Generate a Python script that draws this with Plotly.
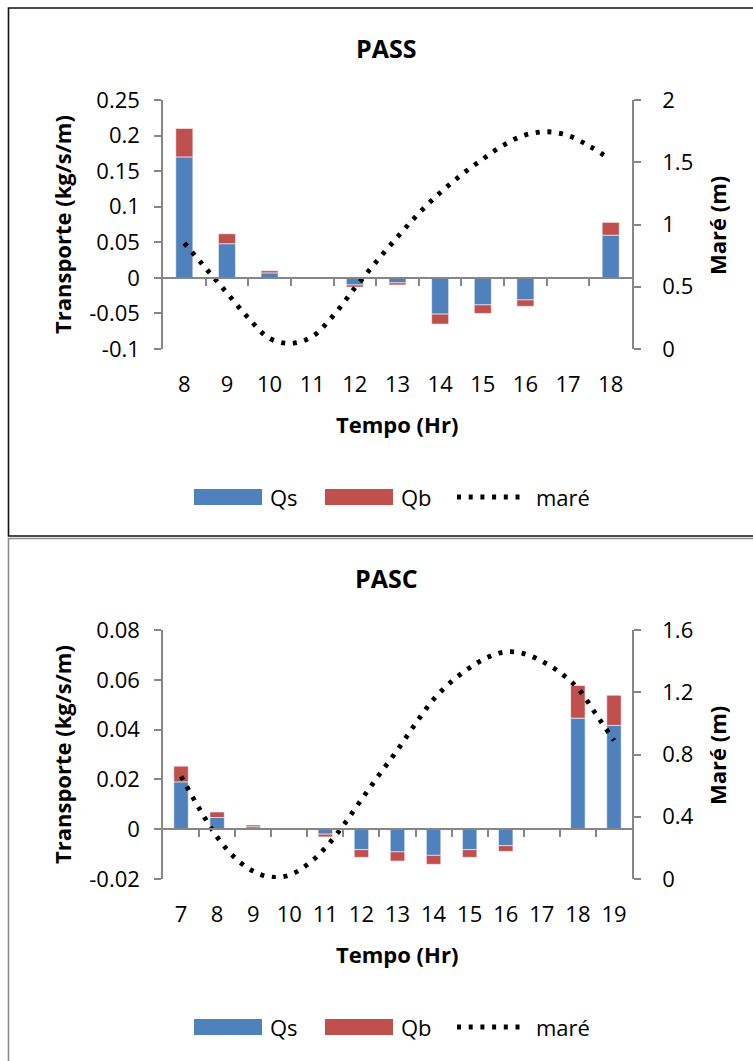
import plotly.graph_objects as go

W, H = 753, 1061
FONT = "Open Sans"
AXIS_GRAY = "#868686"
QS_COLOR = "#4F81BD"
QB_COLOR = "#C0504D"
MARE_WIDTH = 4.8
MARE_DASH = "4px,7.7px"
RIGHT_PAD = "\u00a0" * 3  # gap between the secondary axis and its labels

# ---------------- PASS ----------------
hours_pass = [8, 9, 10, 11, 12, 13, 14, 15, 16, 17, 18]
qs_pass = [0.170, 0.048, 0.007, 0.0, -0.010, -0.007, -0.051, -0.038, -0.031, 0.0, 0.060]
qb_pass = [0.040, 0.014, 0.003, 0.0, -0.003, -0.003, -0.014, -0.012, -0.009, 0.0, 0.018]
mare_t_pass = [8, 8.5, 9, 9.5, 10, 10.5, 11, 11.5, 12, 12.5, 13, 13.5, 14,
               14.5, 15, 15.5, 16, 16.5, 17, 17.5, 18]
mare_pass = [0.85, 0.65, 0.45, 0.25, 0.085, 0.045, 0.10, 0.27, 0.49, 0.70, 0.90,
             1.09, 1.255, 1.40, 1.525, 1.64, 1.72, 1.745, 1.715, 1.63, 1.52]
ytick_pass = [-0.1, -0.05, 0, 0.05, 0.1, 0.15, 0.2, 0.25]
ytext_pass = ["-0.1", "-0.05", "0", "0.05", "0.1", "0.15", "0.2", "0.25"]
y2tick_pass = [0, 0.5, 1, 1.5, 2]
y2text_pass = ["0", "0.5", "1", "1.5", "2"]

# ---------------- PASC ----------------
hours_pasc = [7, 8, 9, 10, 11, 12, 13, 14, 15, 16, 17, 18, 19]
qs_pasc = [0.0190, 0.0047, 0.0010, 0.0, -0.0020, -0.0082, -0.0091, -0.0105,
           -0.0082, -0.0066, 0.0001, 0.0446, 0.0417]
qb_pasc = [0.0063, 0.0022, 0.0007, 0.0, -0.0011, -0.0031, -0.0037, -0.0036,
           -0.0031, -0.0023, 0.0001, 0.0131, 0.0121]
mare_t_pasc = [7, 7.5, 8, 8.5, 9, 9.5, 10, 10.5, 11, 11.5, 12, 12.5, 13, 13.5,
               14, 14.5, 15, 15.5, 16, 16.5, 17, 17.5, 18, 18.5, 19]
mare_pasc = [0.66, 0.455, 0.27, 0.135, 0.05, 0.012, 0.025, 0.092, 0.20, 0.345,
             0.51, 0.672, 0.83, 0.998, 1.155, 1.27, 1.357, 1.425, 1.46, 1.448,
             1.40, 1.327, 1.225, 1.06, 0.89]
ytick_pasc = [-0.02, 0, 0.02, 0.04, 0.06, 0.08]
ytext_pasc = ["-0.02", "0", "0.02", "0.04", "0.06", "0.08"]
y2tick_pasc = [0, 0.4, 0.8, 1.2, 1.6]
y2text_pasc = ["0", "0.4", "0.8", "1.2", "1.6"]

legend_names = ["Qs", "Qb", "maré"]


def fx(px):
    return px / W


def fy(px):
    return 1 - px / H


fig = go.Figure()
layout = dict(
    width=W, height=H, autosize=False,
    margin=dict(l=0, r=0, t=0, b=0, autoexpand=False),
    paper_bgcolor="white", plot_bgcolor="rgba(0,0,0,0)",
    barmode="relative", bargap=0.6, showlegend=False,
    font=dict(family=FONT, size=22, color="black"),
    annotations=[], shapes=[],
)


def add_panel(n, title, hours, qs, qb, mt, mare, yt, ytt, y2t, y2tt, top):
    """Draw one chart panel; `top` is the pixel row where its frame begins."""
    plot_top, plot_bot = top + 100, top + 349
    ax = 2 * n + 1
    xa, xz = ("x" if ax == 1 else f"x{ax}"), f"x{ax + 1}"
    ya, yb = ("y" if ax == 1 else f"y{ax}"), f"y{ax + 1}"
    key = lambda s: s.replace("x", "xaxis").replace("y", "yaxis")
    lo, hi = yt[0], yt[-1]
    dom_y = [fy(plot_bot), fy(plot_top)]
    dom_x = [fx(163), fx(632)]
    zero_pos = dom_y[0] + (0 - lo) / (hi - lo) * (dom_y[1] - dom_y[0])
    xr = [hours[0] - 0.5, hours[-1] + 0.5]
    bounds = [h + 0.5 for h in hours[:-1]]
    edge = dict(color="rgba(255,255,255,0.7)", width=0.8)

    fig.add_trace(go.Bar(x=hours, y=qs, xaxis=xa, yaxis=ya, name="Qs",
                         marker=dict(color=QS_COLOR, line=edge)))
    fig.add_trace(go.Bar(x=hours, y=qb, xaxis=xa, yaxis=ya, name="Qb",
                         marker=dict(color=QB_COLOR, line=edge)))
    fig.add_trace(go.Scatter(x=mt, y=mare, xaxis=xz, yaxis=yb, mode="lines", name="maré",
                             line=dict(color="black", width=MARE_WIDTH, dash=MARE_DASH,
                                       shape="spline", smoothing=1.0)))

    common = dict(showgrid=False, zeroline=False, automargin=False)
    layout[key(xa)] = dict(domain=dom_x, range=xr, anchor=ya, type="linear",
                           tickvals=hours, ticktext=[str(h) for h in hours],
                           ticks="", showline=False, ticklabelstandoff=20,
                           tickfont=dict(size=22), **common)
    layout[key(xz)] = dict(overlaying=xa, range=xr, anchor="free", position=zero_pos,
                           type="linear", tickvals=bounds, ticks="outside", ticklen=7,
                           tickwidth=1.5, tickcolor=AXIS_GRAY, showticklabels=False,
                           showline=True, linecolor=AXIS_GRAY, linewidth=1.5, **common)
    layout[key(ya)] = dict(domain=dom_y, range=[lo, hi], anchor=xa, tickvals=yt, ticktext=ytt,
                           ticks="outside", ticklen=7, tickwidth=1.5, tickcolor=AXIS_GRAY,
                           showline=True, linecolor=AXIS_GRAY, linewidth=1.5,
                           ticklabelstandoff=10, tickfont=dict(size=22), **common)
    layout[key(yb)] = dict(overlaying=ya, side="right", anchor=xa, range=[y2t[0], y2t[-1]],
                           tickvals=y2t, ticktext=[RIGHT_PAD + t for t in y2tt],
                           ticks="outside", ticklen=7, tickwidth=1.5, tickcolor=AXIS_GRAY,
                           showline=True, linecolor=AXIS_GRAY, linewidth=1.5,
                           tickfont=dict(size=22), **common)

    ann = layout["annotations"]
    ann.append(dict(text=f"<b>{title}</b>", x=fx(386), y=fy(top + 48), xref="paper", yref="paper",
                    showarrow=False, font=dict(size=25), xanchor="center", yanchor="middle"))
    ann.append(dict(text="<b>Transporte (kg/s/m)</b>", x=fx(62), y=fy(top + 225), xref="paper",
                    yref="paper", showarrow=False, textangle=-90, font=dict(size=22),
                    xanchor="center", yanchor="middle"))
    ann.append(dict(text="<b>Maré (m)</b>", x=fx(717), y=fy(top + 226), xref="paper",
                    yref="paper", showarrow=False, textangle=-90, font=dict(size=22),
                    xanchor="center", yanchor="middle"))
    ann.append(dict(text="<b>Tempo (Hr)</b>", x=fx(397), y=fy(top + 424), xref="paper",
                    yref="paper", showarrow=False, font=dict(size=22),
                    xanchor="center", yanchor="middle"))

    # legend row: two colour swatches and the dotted tide key
    ly = top + 497
    shp = layout["shapes"]
    for x0, col in ((194, QS_COLOR), (325, QB_COLOR)):
        shp.append(dict(type="rect", xref="paper", yref="paper", x0=fx(x0), x1=fx(x0 + 68),
                        y0=fy(ly + 8), y1=fy(ly - 8), fillcolor=col, line=dict(width=0)))
    shp.append(dict(type="line", xref="paper", yref="paper", x0=fx(457), x1=fx(522),
                    y0=fy(ly), y1=fy(ly),
                    line=dict(color="black", width=MARE_WIDTH, dash=MARE_DASH)))
    for tx, name in zip((268, 399, 534), legend_names):
        ann.append(dict(text=name, x=fx(tx), y=fy(ly), xref="paper", yref="paper",
                        showarrow=False, font=dict(size=22), xanchor="left", yanchor="middle"))


add_panel(0, "PASS", hours_pass, qs_pass, qb_pass, mare_t_pass, mare_pass,
          ytick_pass, ytext_pass, y2tick_pass, y2text_pass, 0)
add_panel(1, "PASC", hours_pasc, qs_pasc, qb_pasc, mare_t_pasc, mare_pasc,
          ytick_pasc, ytext_pasc, y2tick_pasc, y2text_pasc, 530)

# chart frames
layout["shapes"] += [
    dict(type="rect", xref="paper", yref="paper", x0=fx(8.5), x1=1.02, y0=fy(536), y1=fy(8),
         line=dict(color="#111111", width=1.6), fillcolor="rgba(0,0,0,0)", layer="below"),
    dict(type="rect", xref="paper", yref="paper", x0=fx(8.5), x1=1.02, y0=-0.02, y1=fy(538.5),
         line=dict(color="#8c8c8c", width=1.6), fillcolor="rgba(0,0,0,0)", layer="below"),
]

fig.update_layout(**layout)
fig.write_html("out.html")
